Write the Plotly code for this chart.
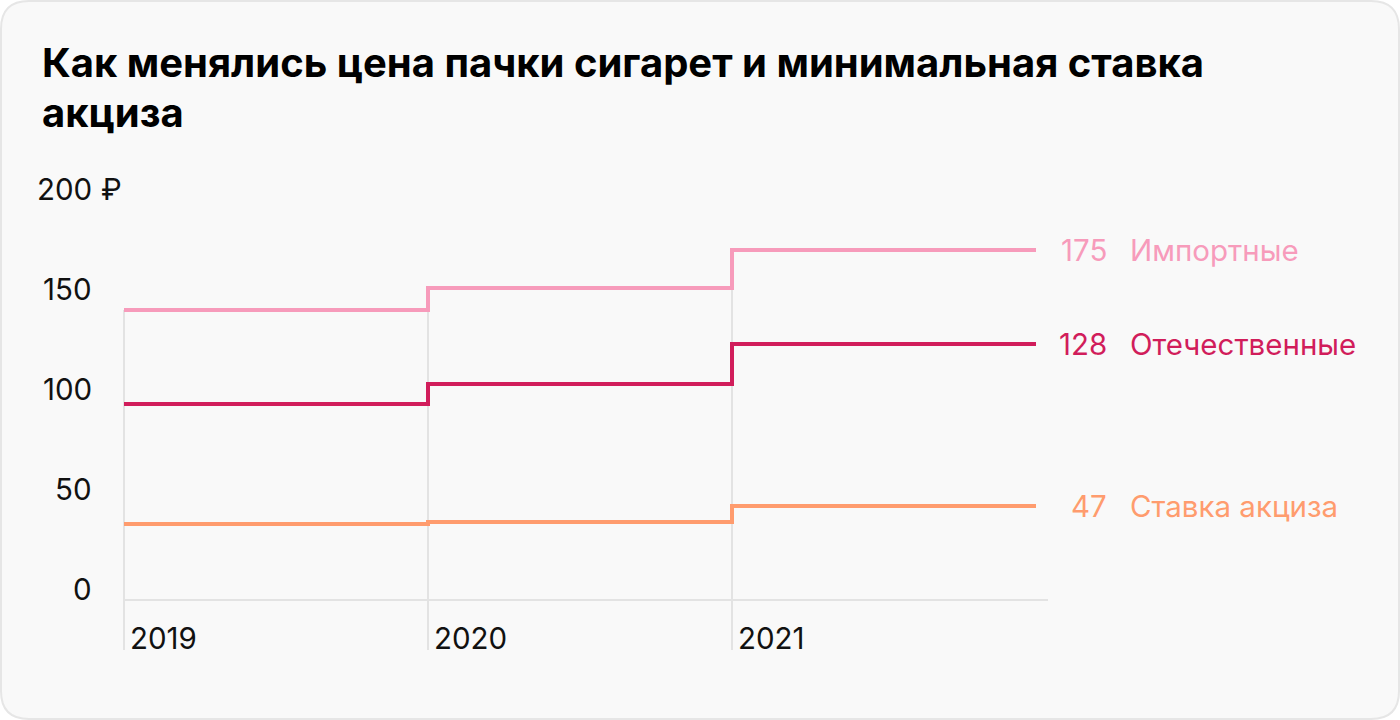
import plotly.graph_objects as go

# ---- data ----
years = [2019, 2020, 2021]
end_year = 2022
imported = [145, 156, 175]
domestic = [98, 108, 128]
excise = [38, 39, 47]
series_names = ["Импортные", "Отечественные", "Ставка акциза"]
series_values = [imported, domestic, excise]
series_colors = ["#F79BBB", "#D11D5B", "#FF9C6E"]
y_ticks = [0, 50, 100, 150, 200]
y_tick_labels = ["0", "50", "100", "150", "200"]
title_line1 = "Как менялись цена пачки сигарет и минимальная ставка"
title_line2 = "акциза"

W, H = 1400, 720
L, R, T, B = 120, 1048, 200, 650
px_per_year = 304.0
x0 = years[0] - (124 - L) / px_per_year
x1 = years[0] + (R - 124) / px_per_year
y0, y1 = -25, 200


def px(xp):
    return (xp - L) / (R - L)


def py(yp):
    return (B - yp) / (B - T)


FONT = "Inter"
LSIZE = 29.5
fig = go.Figure()

# rounded card background
r = 28
cx0, cy0, cx1, cy1 = 1, 1, 1399, 719
path = (
    f"M {px(cx0 + r)} {py(cy0)} L {px(cx1 - r)} {py(cy0)} "
    f"Q {px(cx1)} {py(cy0)} {px(cx1)} {py(cy0 + r)} "
    f"L {px(cx1)} {py(cy1 - r)} "
    f"Q {px(cx1)} {py(cy1)} {px(cx1 - r)} {py(cy1)} "
    f"L {px(cx0 + r)} {py(cy1)} "
    f"Q {px(cx0)} {py(cy1)} {px(cx0)} {py(cy1 - r)} "
    f"L {px(cx0)} {py(cy0 + r)} "
    f"Q {px(cx0)} {py(cy0)} {px(cx0 + r)} {py(cy0)} Z"
)
shapes = [dict(type="path", xref="paper", yref="paper", path=path,
               fillcolor="#F9F9F9", line=dict(color="#E6E6E6", width=2), layer="below")]

# vertical year gridlines (from below axis up to the top series)
for yr, top in zip(years, imported):
    shapes.append(dict(type="line", xref="x", yref="y", x0=yr, x1=yr, y0=y0, y1=top,
                       line=dict(color="#E3E3E3", width=2), layer="below"))
# baseline
shapes.append(dict(type="line", xref="x", yref="y", x0=years[0], x1=x1, y0=0, y1=0,
                   line=dict(color="#E3E3E3", width=2), layer="below"))

for name, vals, col in zip(series_names, series_values, series_colors):
    xs = years + [end_year]
    ys = vals + [vals[-1]]
    fig.add_trace(go.Scatter(x=xs, y=ys, mode="lines", line=dict(color=col, width=4, shape="hv"),
                             name=name, showlegend=False, hoverinfo="skip"))

annotations = []
# y tick labels
for v, lab in zip(y_ticks, y_tick_labels):
    annotations.append(dict(x=years[0], y=v, xref="x", yref="y", text=lab, showarrow=False,
                            xanchor="right", yanchor="middle", xshift=-30, yshift=11,
                            font=dict(family=FONT, size=LSIZE, color="#111111")))
annotations.append(dict(x=years[0], y=y_ticks[-1], xref="x", yref="y", text="₽", showarrow=False,
                        xanchor="left", yanchor="middle", xshift=-25, yshift=11,
                        font=dict(family=FONT, size=LSIZE, color="#111111")))
# x tick labels
for yr in years:
    annotations.append(dict(x=yr, y=y0, xref="x", yref="y", text=str(yr), showarrow=False,
                            xanchor="left", yanchor="middle", xshift=4, yshift=12,
                            font=dict(family=FONT, size=LSIZE, color="#111111")))
# end labels
for name, vals, col in zip(series_names, series_values, series_colors):
    annotations.append(dict(x=end_year, y=vals[-1], xref="x", yref="y", text=str(vals[-1]),
                            showarrow=False, xanchor="right", yanchor="middle", xshift=73,
                            font=dict(family=FONT, size=LSIZE, color=col)))
    annotations.append(dict(x=end_year, y=vals[-1], xref="x", yref="y", text=name,
                            showarrow=False, xanchor="left", yanchor="middle", xshift=92,
                            font=dict(family=FONT, size=LSIZE, color=col)))
# title
annotations.append(dict(x=px(40), y=py(63), xref="paper", yref="paper", text=f"<b>{title_line1}</b>",
                        showarrow=False, xanchor="left", yanchor="middle",
                        font=dict(family=FONT, size=40, color="#000000")))
annotations.append(dict(x=px(40), y=py(113), xref="paper", yref="paper", text=f"<b>{title_line2}</b>",
                        showarrow=False, xanchor="left", yanchor="middle",
                        font=dict(family=FONT, size=40, color="#000000")))

fig.update_layout(
    width=W, height=H,
    margin=dict(l=L, r=W - R, t=T, b=H - B, pad=0),
    paper_bgcolor="#FFFFFF", plot_bgcolor="rgba(0,0,0,0)",
    xaxis=dict(range=[x0, x1], showgrid=False, zeroline=False, showticklabels=False,
               showline=False, ticks=""),
    yaxis=dict(range=[y0, y1], showgrid=False, zeroline=False, showticklabels=False,
               showline=False, ticks=""),
    shapes=shapes, annotations=annotations, hovermode=False,
)

fig.write_html("out.html", config={"displayModeBar": False},
               post_script="document.body.style.margin='0';document.body.style.padding='0';")
